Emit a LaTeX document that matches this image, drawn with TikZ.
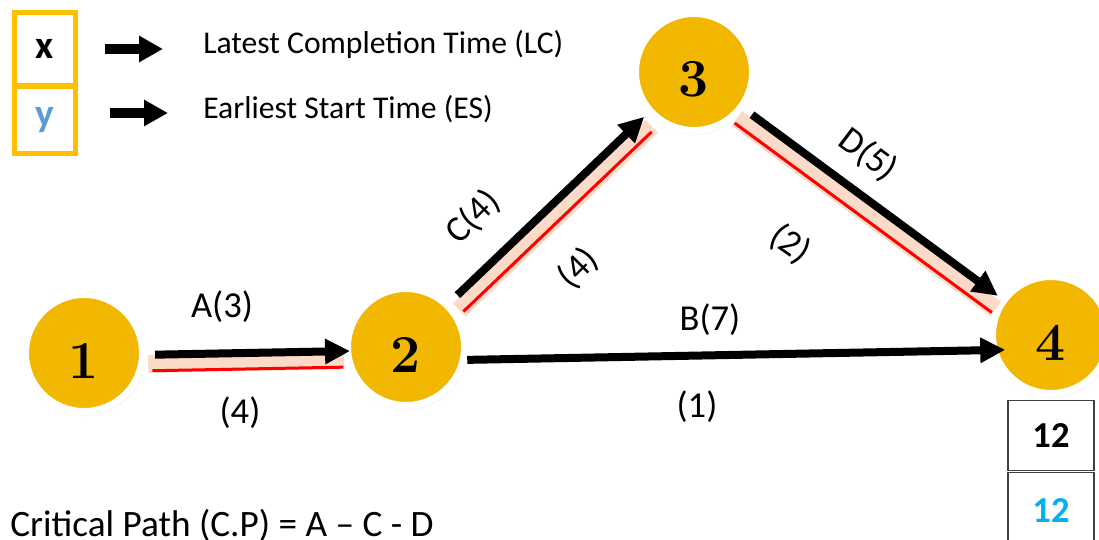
\documentclass[tikz,border=0pt]{standalone}
\usepackage{fontspec}
\newfontfamily\calibri{Carlito}
\usetikzlibrary{positioning,arrows.meta,calc,shadows}
\definecolor{keyorange}{HTML}{FFC000}
\definecolor{ykey}{HTML}{5B9BD5}
\definecolor{esblue}{HTML}{00B0F0}
\definecolor{evyellow}{HTML}{F2B700}
\definecolor{glowc}{HTML}{F9C3A3}

\begin{document}
\begin{tikzpicture}[
  x=0.25mm, y=-0.25mm,
  font=\calibri,
  event/.style={circle,fill=evyellow,draw=white,line width=1.75mm,minimum size=29.25mm,
                inner sep=0pt,text height=12.6mm,font=\rmfamily\bfseries\fontsize{38}{38}\selectfont,
                circular drop shadow={shadow xshift=0.2mm,shadow yshift=-0.4mm,shadow scale=1.05,
                                      fill=black!50,opacity=0.45}},
  keybox/.style={rectangle,draw=keyorange,line width=1.25mm,minimum width=15.25mm,inner sep=0pt,
                 font=\calibri\bfseries\fontsize{28}{28}\selectfont},
  keytxt/.style={anchor=base west,inner sep=0pt,font=\calibri\fontsize{22.5}{26}\selectfont},
  lab/.style={inner sep=0pt,font=\calibri\fontsize{26}{30}\selectfont},
  valbox/.style={rectangle,draw=black!75,line width=0.35mm,minimum width=21.5mm,inner sep=0pt,
                 font=\calibri\bfseries\fontsize{26}{30}\selectfont},
  act/.style={-{Triangle[length=6.25mm,width=6mm]},line width=2mm,black},
  crit/.style={line width=0.75mm,red},
  glow/.style={line width=4.5mm,glowc,opacity=0.6},
  keyarr/.style={-{Triangle[length=6mm,width=6.25mm]},line width=2.5mm,black},
]
\useasboundingbox (0,0) rectangle (1099,539);

% ---------- key ----------
\node[keybox,minimum height=18.4mm] (xk) at (45,49) {x};
\node[keybox,minimum height=16.9mm,text=ykey] (yk) at (45,120) {y};
\node[keytxt] (lctxt) at (203,53) {Latest Completion Time (LC)};
\node[keytxt] (estxt) at (203,118) {Earliest Start Time (ES)};
\draw[keyarr,shorten <=6.75mm,shorten >=10mm] (xk.east) -- (xk.east -| lctxt.west);
\draw[keyarr,shorten <=8mm,shorten >=8.75mm] ([yshift=1.75mm]yk.east) -- ([yshift=1.75mm]yk.east -| estxt.west);

% ---------- events ----------
\node[event] (n1) at (84,353) {1};
\node[event] (n2) at (406,347) {2};
\node[event] (n3) at (694,72) {3};
\node[event] (n4) at (1051,335) {4};

% ---------- critical activities ----------
\draw[glow,shorten <=16mm,shorten >=15.5mm] ($(n1)!3mm!-90:(n2)$) -- ($(n2)!3mm!90:(n1)$);
\draw[glow,shorten <=16mm,shorten >=17mm] ($(n2)!2.5mm!-90:(n3)$) -- ($(n3)!2.5mm!90:(n2)$);
\draw[glow,shorten <=15.5mm,shorten >=15mm] ($(n3)!3mm!-90:(n4)$) -- ($(n4)!3mm!90:(n3)$);
\draw[crit,shorten <=17mm,shorten >=15.75mm] ($(n1)!4.75mm!-90:(n2)$) -- ($(n2)!4.75mm!90:(n1)$);
\draw[crit,shorten <=16.5mm,shorten >=18mm] ($(n2)!3.5mm!-90:(n3)$) -- ($(n3)!3.5mm!90:(n2)$);
\draw[crit,shorten <=15.75mm,shorten >=15.25mm] ($(n3)!4.25mm!-90:(n4)$) -- ($(n4)!4.25mm!90:(n3)$);
\draw[act,shorten <=17.75mm,shorten >=14mm] ($(n1)!0.75mm!-90:(n2)$) -- ($(n2)!0.75mm!90:(n1)$);
\draw[act,shorten <=18.25mm,shorten >=16.75mm] ($(n2)!-0.5mm!-90:(n3)$) -- ($(n3)!-0.5mm!90:(n2)$);
\draw[act,shorten <=18mm,shorten >=16.5mm] (n3.center) -- (n4.center);
\draw[act,shorten <=15.25mm,shorten >=11.5mm] ($(n2)!3.5mm!-90:(n4)$) -- ($(n4)!3.5mm!90:(n2)$);

% ---------- labels ----------
\node[lab] (la) at (222,307) {A(3)};
\node[lab] (ta) at (240,413) {(4)};
\node[lab,rotate=45] (lcc) at (473,217) {C(4)};
\node[lab,rotate=45] (tc) at (578,268) {(4)};
\node[lab,rotate=-37] (ld) at (868,155) {D(5)};
\node[lab,rotate=-35] (td) at (790,244) {(2)};
\node[lab] (lb) at (710,320) {B(7)};
\node[lab] (tb) at (697,407) {(1)};

% ---------- times at 4 ----------
\node[valbox,minimum height=17.5mm] (lc4) at (1051,435.5) {12};
\node[valbox,minimum height=19.25mm,text=esblue] (es4) at (1051,511) {12};

\node[anchor=base west,inner sep=0pt,font=\calibri\fontsize{26.5}{30}\selectfont] (cp) at (10,536)
  {Critical Path (C.P) = A – C - D};
\end{tikzpicture}
\end{document}
